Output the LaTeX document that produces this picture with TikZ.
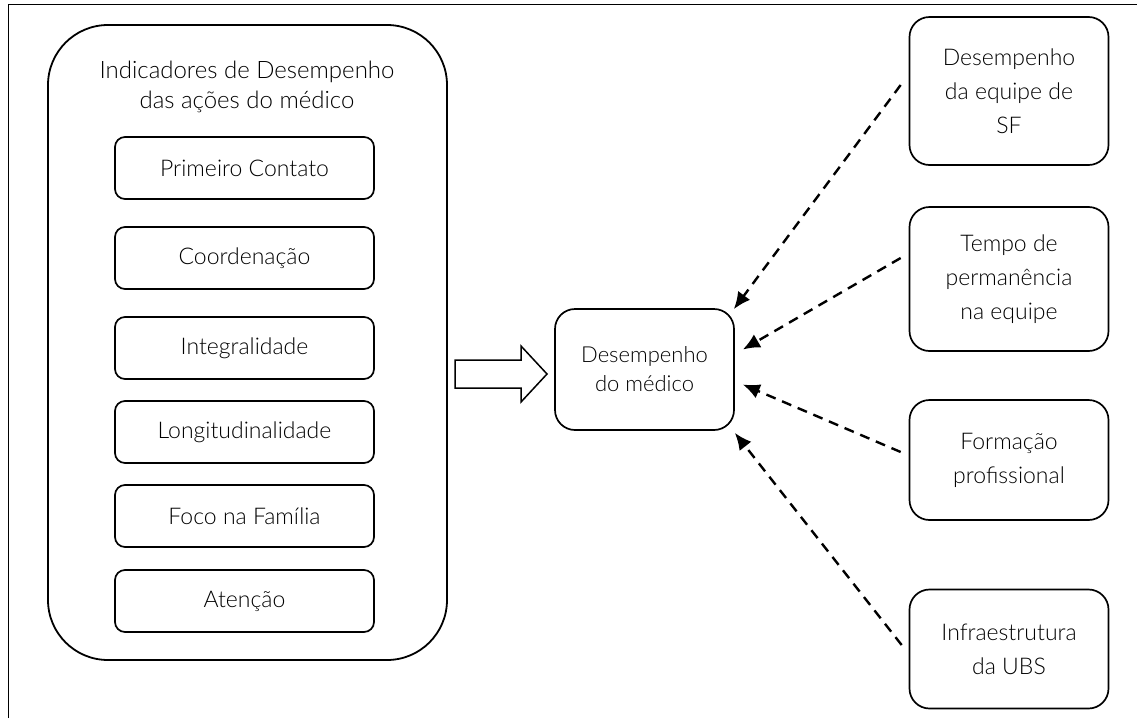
\documentclass[tikz,border=0pt]{standalone}
\usepackage{fontspec}
\setmainfont{Lato Light}
\usetikzlibrary{arrows.meta}
\begin{document}
\begin{tikzpicture}[x=1pt,y=-1pt,
  every node/.style={font=\fontsize{23}{30}\selectfont},
  bigbox/.style={draw, line width=1.8pt, rounded corners=60pt, minimum width=399pt, minimum height=635pt, inner sep=0pt},
  itembox/.style={draw, line width=1.7pt, rounded corners=10pt, minimum width=259pt, minimum height=62pt, align=center, inner sep=0pt},
  midbox/.style={draw, line width=1.7pt, rounded corners=20pt, minimum width=179pt, minimum height=121pt, align=center, inner sep=0pt, font=\fontsize{22}{29}\selectfont},
  sidebox/.style={draw, line width=1.7pt, rounded corners=20pt, minimum width=199pt, align=center, inner sep=0pt, font=\fontsize{23}{34}\selectfont},
  infl/.style={dashed, dash pattern=on 10pt off 7pt, line width=2.4pt, -{Latex[length=17pt,width=15pt]}},
  blockarrow/.style={draw, line width=1.5pt, fill=white}
]
\useasboundingbox (0,0) rectangle (1137,718);
\draw[line width=0.8pt] (8,718) -- (8,4) -- (1137,4);

% left group
\node[bigbox] (outer) at (247.5,342.5) {};
\node[align=center, font=\fontsize{24}{30}\selectfont] (title) at (247,87) {Indicadores de Desempenho\\das ações do médico};
\node[itembox] (i1) at (244.5,168) {Primeiro Contato};
\node[itembox] (i2) at (244.5,258) {Coordenação};
\node[itembox] (i3) at (244.5,348) {Integralidade};
\node[itembox] (i4) at (244.5,432) {Longitudinalidade};
\node[itembox] (i5) at (244.5,516) {Foco na Família};
\node[itembox] (i6) at (244.5,601) {Atenção};

% center
\node[midbox] (mid) at (644.5,369.5) {Desempenho\\do médico};

% block arrow
\draw[blockarrow] (455,360) -- (521,360) -- (521,346) -- (547,374) -- (521,402) -- (521,388) -- (455,388) -- cycle;

% right boxes
\node[sidebox, minimum height=148pt] (r1) at (1009,91) {Desempenho\\da equipe de\\SF};
\node[sidebox, minimum height=144pt] (r2) at (1009,279) {Tempo de\\permanência\\na equipe};
\node[sidebox, minimum height=120pt] (r3) at (1009,460) {Formação\\profissional};
\node[sidebox, minimum height=119pt] (r4) at (1009,649) {Infraestrutura\\da UBS};

% influence arrows
\draw[infl] ([xshift=-8pt,yshift=6pt]r1.west) -- ([xshift=-1pt,yshift=-1pt]mid.north east);
\draw[infl] ([xshift=-8pt,yshift=21pt]r2.west) -- ([xshift=8pt,yshift=20pt]mid.east);
\draw[infl] ([xshift=-8pt,yshift=8pt]r3.west) -- ([xshift=8pt,yshift=-15pt]mid.east);
\draw[infl] ([xshift=-7pt,yshift=4pt]r4.west) -- ([xshift=0pt,yshift=-2pt]mid.south east);
\end{tikzpicture}
\end{document}
